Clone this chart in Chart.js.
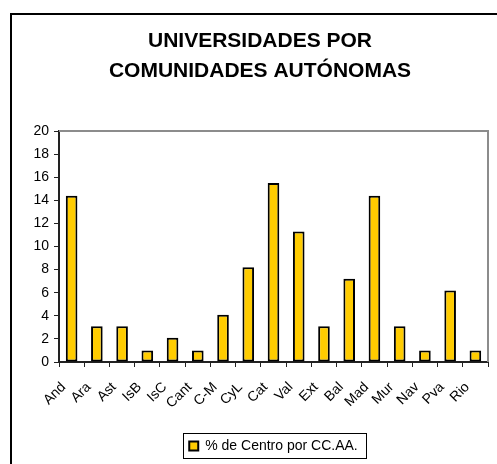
<!DOCTYPE html>
<html>
<head>
<meta charset="utf-8">
<script src="https://cdn.jsdelivr.net/npm/chart.js@4"></script>
<style>
  body { margin: 0; background: #fff; }
  #wrap { position: relative; width: 497px; height: 464px; overflow: hidden; }
  #frame { position: absolute; left: 10px; top: 13px; width: 600px; height: 600px;
           border-left: 2px solid #000; border-top: 2px solid #000; pointer-events: none; }
</style>
</head>
<body>
<div id="wrap">
  <canvas id="chart" width="497" height="464"></canvas>
  <div id="frame"></div>
</div>
<script>
// Data
const regions = ["And", "Ara", "Ast", "IsB", "IsC", "Cant", "C-M", "CyL", "Cat", "Val", "Ext", "Bal", "Mad", "Mur", "Nav", "Pva", "Rio"]
const percentByRegion = [14.4, 3.1, 3.1, 1.0, 2.1, 1.0, 4.1, 8.2, 15.5, 11.3, 3.1, 7.2, 14.4, 3.1, 1.0, 6.2, 1.0]
const seriesLabel = "% de Centro por CC.AA."
const titleLines = ["UNIVERSIDADES POR", "COMUNIDADES AUTÓNOMAS"]
const yMin = 0
const yMax = 20
const yStep = 2

const FONT = 'Arial, "Liberation Sans", sans-serif'

// plot-area frame (gray top/right) + box round the legend
const frames = {
  id: "frames",
  afterDraw(chart) {
    const { ctx, chartArea: a } = chart
    ctx.save()
    ctx.strokeStyle = "#8c8c8c"
    ctx.lineWidth = 2
    ctx.beginPath()
    ctx.moveTo(a.left, a.top)
    ctx.lineTo(a.right, a.top)
    ctx.lineTo(a.right, a.bottom)
    ctx.stroke()

    const hb = chart.legend.legendHitBoxes[0]
    if (hb) {
      const cy = hb.top + hb.height / 2
      ctx.strokeStyle = "#000"
      ctx.lineWidth = 1
      ctx.strokeRect(Math.round(hb.left - 6) + 0.5, Math.round(cy - 13) + 0.5,
        Math.round(hb.width + 14), 25)
    }
    ctx.restore()
  },
}

new Chart(document.getElementById("chart"), {
  type: "bar",
  data: {
    labels: regions,
    datasets: [
      {
        label: seriesLabel,
        data: percentByRegion,
        backgroundColor: "#ffcc00",
        borderColor: "#000",
        borderWidth: 2,
        borderSkipped: false,
        categoryPercentage: 1,
        barPercentage: 0.46,
      },
    ],
  },
  options: {
    responsive: false,
    animation: false,
    layout: { padding: { left: 32, right: 9, top: 0, bottom: 1 } },
    plugins: {
      title: {
        display: true,
        text: titleLines,
        color: "#000",
        font: { family: FONT, size: 21, weight: "bold", lineHeight: 1.43 },
        padding: { top: 26, bottom: 45 },
      },
      legend: {
        position: "bottom",
        fullSize: false,
        labels: {
          color: "#000",
          font: { family: FONT, size: 14 },
          boxWidth: 9,
          boxHeight: 9,
          padding: 10,
        },
      },
      tooltip: { enabled: false },
    },
    scales: {
      x: {
        offset: true,
        afterFit: (s) => {
          s.height = 67
          s.paddingRight = 0
          s.paddingLeft = 0
        },
        grid: { offset: true, drawOnChartArea: false, drawTicks: true, tickLength: 5, color: "#222", lineWidth: 1 },
        border: { display: true, color: "#222", width: 2 },
        ticks: { color: "#000", font: { family: FONT, size: 14 }, minRotation: 45, maxRotation: 45, padding: 12, labelOffset: -8, autoSkip: false },
      },
      y: {
        min: yMin,
        max: yMax,
        afterFit: (s) => { s.width = 27 },
        grid: { drawOnChartArea: false, drawTicks: true, tickLength: 5, color: "#222", lineWidth: 1 },
        border: { display: true, color: "#222", width: 2 },
        ticks: { stepSize: yStep, color: "#000", font: { family: FONT, size: 14 }, padding: 5 },
      },
    },
  },
  plugins: [frames],
})
</script>
</body>
</html>
